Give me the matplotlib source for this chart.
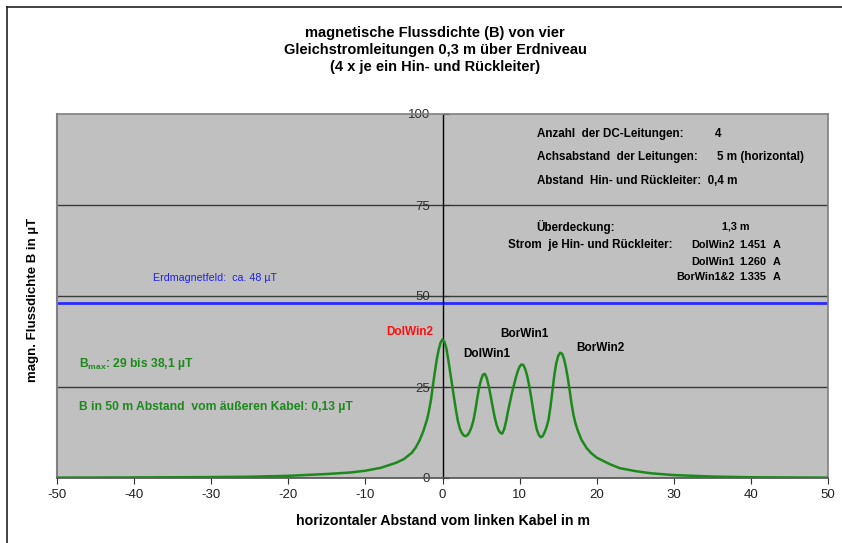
import matplotlib
matplotlib.use('Agg')
import matplotlib.pyplot as plt
from matplotlib.lines import Line2D

plt.rcParams['font.family'] = ['Liberation Sans', 'DejaVu Sans']
plt.rcParams['mathtext.fontset'] = 'custom'
plt.rcParams['mathtext.rm'] = 'Liberation Sans:bold'
plt.rcParams['mathtext.it'] = 'Liberation Sans:bold'
plt.rcParams['mathtext.bf'] = 'Liberation Sans:bold'

# --- Daten ---
abstand_m = [-50, -40, -30, -25, -20, -15, -12, -10, -8, -6, -5, -4, -3.5, -3,
             -2.5, -2, -1.75, -1.5, -1.25, -1, -0.75, -0.5, -0.25, 0, 0.25,
             0.5, 0.75, 1, 1.25, 1.5, 1.75, 2, 2.25, 2.5, 2.75, 3, 3.25, 3.5,
             3.75, 4, 4.25, 4.5, 4.75, 5, 5.25, 5.5, 5.75, 6, 6.25, 6.5, 6.75,
             7, 7.25, 7.5, 7.75, 8, 8.25, 8.5, 9, 9.5, 9.75, 10, 10.25, 10.5,
             10.75, 11, 11.25, 11.5, 11.75, 12, 12.25, 12.5, 12.75, 13, 13.25,
             13.5, 13.75, 14, 14.25, 14.5, 14.75, 15, 15.25, 15.5, 15.75, 16,
             16.25, 16.5, 16.75, 17, 17.25, 17.5, 18, 18.7, 19.3, 20, 21.7,
             23, 25, 27, 30, 35, 40, 45, 50]
flussdichte_uT = [0.1, 0.15, 0.25, 0.35, 0.6, 1.1, 1.5, 2.0, 2.8, 4.2, 5.2, 6.9,
                  8.3, 10.2, 12.8, 16.1, 18.5, 21.4, 25.3, 29.0, 32.5, 35.2,
                  37.2, 38.1, 37.4, 35.6, 32.5, 29.0, 25.5, 22.0, 18.6, 15.6,
                  13.6, 12.4, 11.7, 11.5, 11.8, 12.6, 13.9, 15.7, 18.5, 21.8,
                  24.8, 27.0, 28.4, 28.6, 27.4, 25.2, 22.5, 19.6, 16.9, 14.7,
                  13.2, 12.4, 12.2, 13.4, 15.6, 18.4, 23.3, 27.5, 29.3, 30.6,
                  31.2, 31.0, 29.8, 27.9, 25.3, 22.2, 18.8, 15.6, 13.2, 11.8,
                  11.2, 11.5, 12.6, 14.0, 16.0, 19.5, 23.8, 28.2, 31.5, 33.5,
                  34.4, 34.2, 32.8, 30.5, 27.5, 24.0, 20.2, 17.2, 15.0, 13.3,
                  10.6, 8.2, 6.8, 5.6, 3.8, 2.7, 1.9, 1.3, 0.8, 0.4, 0.2, 0.15,
                  0.1]
erdmagnetfeld_uT = 48

x_ticks = [-50, -40, -30, -20, -10, 0, 10, 20, 30, 40, 50]
y_ticks = [0, 25, 50, 75, 100]

titel = ("magnetische Flussdichte (B) von vier\n"
         "Gleichstromleitungen 0,3 m über Erdniveau\n"
         "(4 x je ein Hin- und Rückleiter)")

leitungen = ["DolWin2", "DolWin1", "BorWin1&2"]
stroeme = ["1.451", "1.260", "1.335"]

gruen = '#1b8a1b'

fig = plt.figure(figsize=(8.42, 5.43), dpi=100)
ax = fig.add_axes([57 / 842, 1 - 478 / 543, (828 - 57) / 842, (478 - 114) / 543])
ax.set_facecolor('#c0c0c0')
ax.set_xlim(-50, 50)
ax.set_ylim(0, 100)

# Gitterlinien
for v in [25, 50, 75]:
    ax.axhline(v, color='#3a3a3a', lw=1.0, zorder=1)

ax.axhline(erdmagnetfeld_uT, color='#2a2aff', lw=2, zorder=2)
ax.plot(abstand_m, flussdichte_uT, color=gruen, lw=1.8, zorder=3)

# Achsen
for s in ['top', 'right']:
    ax.spines[s].set_color('#808080')
    ax.spines[s].set_linewidth(1.2)
ax.spines['bottom'].set_color('#505050')
ax.spines['bottom'].set_linewidth(1.2)
ax.spines['left'].set_position(('data', 0))
ax.spines['left'].set_color('black')
ax.spines['left'].set_linewidth(1.0)
ax.add_line(Line2D([-50, -50], [0, 100], color='#808080', lw=1.5, clip_on=False))

ax.set_xticks(x_ticks)
ax.set_xticklabels([str(t) for t in x_ticks])
ax.set_yticks(y_ticks)
ax.set_yticklabels([str(t) for t in y_ticks])
ax.tick_params(axis='x', direction='out', length=4, color='#303030',
               labelsize=9.5, labelcolor='#202020', pad=4)
ax.tick_params(axis='y', direction='in', length=4, color='#303030',
               labelsize=9.5, labelcolor='#303030', pad=9)
for lab in ax.get_yticklabels():
    lab.set_zorder(5)

ax.set_xlabel("horizontaler Abstand vom linken Kabel in m",
              fontsize=10.2, fontweight='bold', labelpad=9)
fig.text(33 / 842, 1 - 300 / 543, "magn. Flussdichte B in µT", rotation=90,
         fontsize=9.5, fontweight='bold', ha='center', va='center')
fig.text(435 / 842, 1 - 50 / 543, titel, ha='center', va='center',
         fontsize=10.5, fontweight='bold', linespacing=1.28)

# Infotexte
info = dict(fontsize=8.4, fontweight='bold', color='black', va='center')
klein = dict(fontsize=7.8, fontweight='bold', color='black', va='center')
ax.text(12.3, 94.5, "Anzahl  der DC-Leitungen:", **info)
ax.text(35.3, 94.5, "4", **info)
ax.text(12.3, 88.3, "Achsabstand  der Leitungen:", **info)
ax.text(35.6, 88.3, "5 m (horizontal)", **info)
ax.text(12.3, 81.7, "Abstand  Hin- und Rückleiter:  0,4 m", **info)
ax.text(12.1, 69.0, "Überdeckung:", **info)
ax.text(36.2, 69.0, "1,3 m", **klein)
ax.text(8.5, 64.0, "Strom  je Hin- und Rückleiter:", **info)
for i, (name, strom) in enumerate(zip(leitungen, stroeme)):
    yy = [64.0, 59.3, 55.2][i]
    ax.text(37.9, yy, name, ha='right', **klein)
    ax.text(38.5, yy, strom, ha='left', **klein)
    ax.text(42.8, yy, "A", ha='left', **klein)

ax.text(-37.6, 54.9, "Erdmagnetfeld:  ca. 48 µT", fontsize=7.7, color='#2020ee',
        va='center')

lab = dict(fontsize=8.5, fontweight='bold', va='center')
ax.text(-7.3, 40.1, "DolWin2", color='#ff1010', **lab)
ax.text(2.7, 34.1, "DolWin1", color='black', **lab)
ax.text(7.5, 39.6, "BorWin1", color='black', **lab)
ax.text(17.3, 35.7, "BorWin2", color='black', **lab)

ax.text(-47.2, 31.3, r"B$_{\mathrm{max}}$: 29 bis 38,1 µT", fontsize=8.7,
        fontweight='bold', color=gruen, va='center')
ax.text(-47.2, 19.5, "B in 50 m Abstand  vom äußeren Kabel: 0,13 µT",
        fontsize=8.7, fontweight='bold', color=gruen, va='center')

# Rahmen oben/links
fig.add_artist(Line2D([7 / 842, 7 / 842], [0, 1 - 7 / 543], color='#222222', lw=1.2))
fig.add_artist(Line2D([7 / 842, 1], [1 - 7 / 543, 1 - 7 / 543], color='#222222', lw=1.2))

fig.savefig('out.png', dpi=100)
